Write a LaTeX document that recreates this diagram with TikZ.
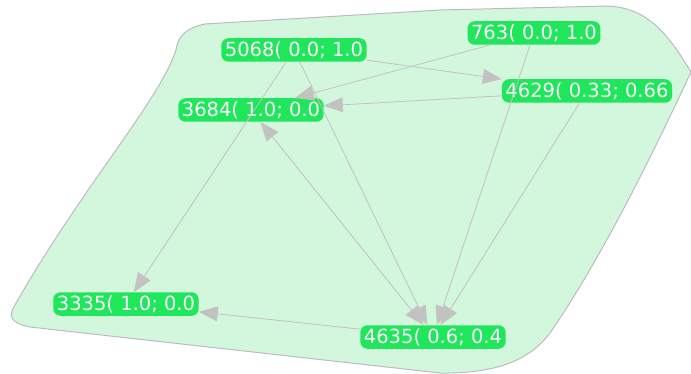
\documentclass[tikz,border=0pt]{standalone}
\usepackage{fontspec}
\setmainfont{DejaVu Sans}
\usetikzlibrary{arrows.meta}
\definecolor{blobfill}{RGB}{211,247,221}
\definecolor{blobline}{RGB}{188,188,188}
\definecolor{nodefill}{RGB}{32,230,92}
\definecolor{edgecol}{RGB}{194,194,194}
\tikzset{
  lbl/.style={fill=nodefill, text=white, rounded corners=7pt, inner xsep=3.5pt, inner ysep=5pt,
    text height=13.5pt, text depth=0pt, font=\fontsize{19.5}{21}\selectfont, anchor=center},
  tip/.style={},
  edge/.style={draw=edgecol, line width=0.8pt, -{Triangle[length=19pt,width=15pt]}},
  biedge/.style={draw=edgecol, line width=0.8pt, {Triangle[length=19pt,width=15pt]}-{Triangle[length=19pt,width=15pt]}}
}
\begin{document}
\begin{tikzpicture}[x=1pt,y=-1pt]
\useasboundingbox (0,0) rectangle (691,374);
\fill[white] (0,0) rectangle (691,374);
% group hull
\draw[blobline, fill=blobfill, line width=1pt]
  (176,50) .. controls (178,36) and (186,28) .. (205,24)
  -- (440,10) -- (608,6)
  .. controls (648,8) and (668,34) .. (691,72)
  .. controls (650,160) and (600,260) .. (552,330)
  .. controls (535,355) and (505,374) .. (440,373)
  -- (30,327)
  .. controls (10,323) and (8,316) .. (15,305)
  .. controls (80,190) and (160,100) .. cycle;
% nodes
\node[lbl] (n5068) at (294,50) {5068( 0.0; 1.0};
\node[lbl] (n763)  at (534,33) {763( 0.0; 1.0};
\node[lbl] (n4629) at (587,91) {4629( 0.33; 0.66};
\node[lbl] (n3684) at (251,110) {3684( 1.0; 0.0};
\node[lbl] (n3335) at (126,304) {3335( 1.0; 0.0};
\node[lbl] (n4635) at (433,337) {4635( 0.6; 0.4};
% edges
\draw[edge] (n5068) -- (n4629);
\draw[edge] (n763) -- (n3684);
\draw[edge] (n4629) -- (n3684);
\draw[edge] (n5068) -- (n3335);
\draw[edge] (n5068) -- (n4635);
\draw[biedge] (n3684) -- (n4635);
\draw[edge] (n763) -- (n4635);
\draw[edge] (n4629) -- (n4635);
\draw[edge] (n4635) -- (n3335);
\end{tikzpicture}
\end{document}
